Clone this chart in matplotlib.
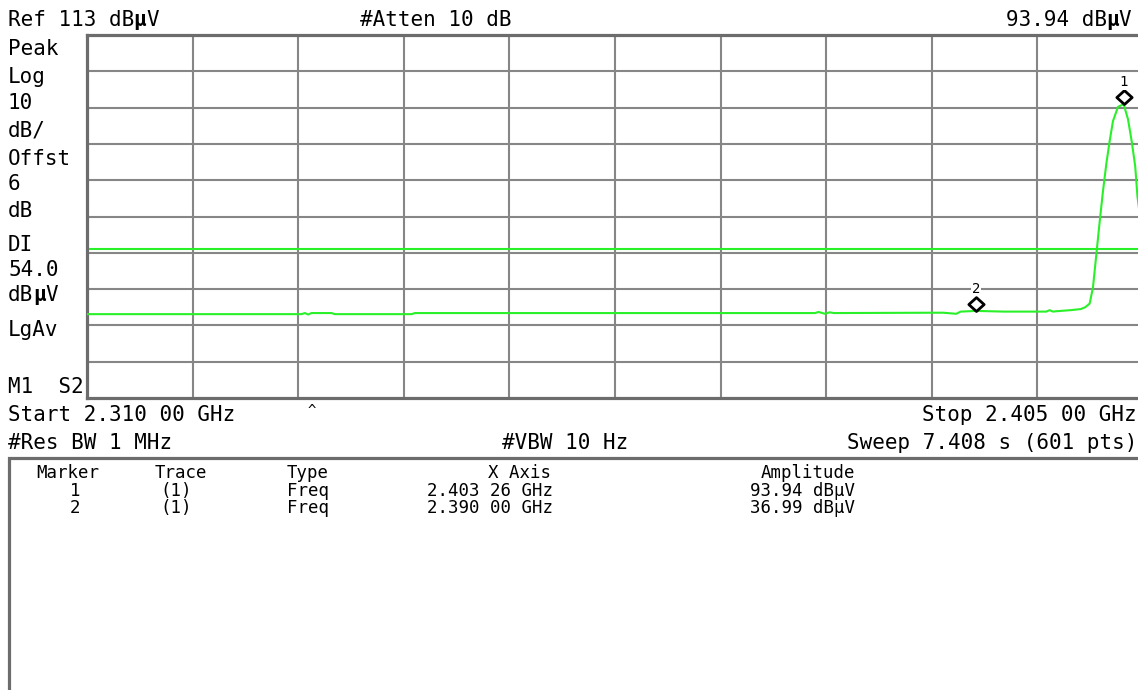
# Spectrum analyzer screen capture (2.310 - 2.405 GHz band edge plot) rebuilt with matplotlib
import matplotlib
matplotlib.use('Agg')
import matplotlib.pyplot as plt
import matplotlib.patches as patches
from matplotlib.path import Path

# 0. Data
# Sweep frequencies (MHz) and trace level (dBuV)
freq_mhz = [2310.0, 2329.3, 2329.6, 2329.9, 2330.2, 2332.0, 2332.3, 2339.2, 2339.5, 2355.0,
            2375.5, 2375.8, 2376.4, 2376.8, 2377.2, 2387.0, 2388.2, 2388.6, 2390.0, 2392.5,
            2396.3, 2396.6, 2396.9, 2397.2, 2398.5, 2399.4, 2399.8, 2400.2, 2400.5, 2400.8,
            2401.1, 2401.4, 2401.7, 2402.0, 2402.3, 2402.75, 2403.26, 2403.65, 2404.0, 2404.3,
            2404.5, 2405.0]
level_dbuv = [36.1, 36.1, 36.4, 36.0, 36.4, 36.4, 36.1, 36.1, 36.4, 36.4,
              36.4, 36.7, 36.2, 36.6, 36.4, 36.5, 36.2, 36.8, 36.99, 36.8,
              36.8, 37.2, 36.8, 36.9, 37.2, 37.5, 38.0, 39.0, 43.5, 52.5,
              61.5, 70.0, 77.5, 83.8, 89.3, 93.2, 93.94, 89.8, 83.4, 76.8,
              68.5, 57.0]

# Markers
marker_ids = ['1', '2']
marker_freq = [2403.26, 2390.00]
marker_amp = [93.94, 36.99]

# Display line and screen settings
display_line = 54.0
ref_level = 113
db_per_div = 10
start_mhz = 2310.0
stop_mhz = 2405.0

# Left annotation column
left_labels = ['Peak', 'Log', '10', 'dB/', 'Offst', '6', 'dB', 'DI', '54.0', 'dBµV', 'LgAv', 'M1  S2']

# Marker table
table_header = ['Marker', 'Trace', 'Type', 'X Axis', 'Amplitude']
table_rows = [['1', '(1)', 'Freq', '2.403 26 GHz', '93.94 dBµV'],
              ['2', '(1)', 'Freq', '2.390 00 GHz', '36.99 dBµV']]

# 1. Figure, everything is placed in screen pixels
W, H, DPI = 1138, 690, 100
fig = plt.figure(figsize=(W / DPI, H / DPI), dpi=DPI)
fig.patch.set_facecolor('white')

MONO = 'DejaVu Sans Mono'
GREEN = '#2af02a'
GRID = '#868686'
FRAME = '#6c6c6c'


def put(x, y, s, size=15, ha='left', bold_mu=True):
    # monospace text, x = left (or right) edge in px, y = baseline in px
    # the mu sign is drawn in bold like on the instrument screen
    w = 0.602 * size * DPI / 72
    if ha == 'right':
        x = x - len(s) * w
    if not bold_mu:
        fig.text(x / W, 1 - y / H, s, family=MONO, size=size, ha='left', va='baseline')
        return
    # split into pieces so the bold mu sits in its own slot
    pieces = []
    buf, start = '', 0
    for i, c in enumerate(s):
        if c == 'µ':
            if buf:
                pieces.append((start, buf, 'normal'))
            pieces.append((i, c, 'bold'))
            buf, start = '', i + 1
        else:
            buf += c
    if buf:
        pieces.append((start, buf, 'normal'))
    for i0, txt, wt in pieces:
        fig.text((x + i0 * w) / W, 1 - y / H, txt, family=MONO, size=size,
                 weight=wt, ha='left', va='baseline')


# Plot area: left 87, top 35, 105.6 px per division (right edge falls off the screen)
left_px, top_px, div_x, div_y = 87, 35, 105.6, 36.3
ax = fig.add_axes([left_px / W, 1 - (top_px + 10 * div_y) / H, 10 * div_x / W, 10 * div_y / H])
ax.set_xlim(start_mhz, stop_mhz)
ax.set_ylim(ref_level - 10 * db_per_div, ref_level)

# Graticule
span = stop_mhz - start_mhz
for i in range(1, 10):
    ax.axvline(start_mhz + i * span / 10, color=GRID, lw=1.5, zorder=1)
    ax.axhline(ref_level - i * db_per_div, color=GRID, lw=1.5, zorder=1)
ax.set_xticks([])
ax.set_yticks([])
for s in ax.spines.values():
    s.set_color(FRAME)
    s.set_linewidth(2.3)

# Display line and trace
ax.axhline(display_line, color=GREEN, lw=1.5, zorder=2)
ax.plot(freq_mhz, level_dbuv, color=GREEN, lw=1.5, zorder=3)

# Diamond markers sitting on top of the trace point
diamond = Path([(0, 0), (1.1, 1), (0, 2), (-1.1, 1), (0, 0)],
               [Path.MOVETO, Path.LINETO, Path.LINETO, Path.LINETO, Path.CLOSEPOLY])
for mid, mf, ma in zip(marker_ids, marker_freq, marker_amp):
    ax.plot(mf, ma, linestyle='None', marker=diamond, markersize=20, markerfacecolor='white',
            markeredgecolor='black', markeredgewidth=2.0, zorder=5)
    ax.annotate(mid, (mf, ma), xytext=(0, 11), textcoords='offset points', ha='center',
                va='bottom', family=MONO, size=10, zorder=6,
                bbox=dict(boxstyle='square,pad=0.05', fc='white', ec='none'))

# 2. Screen annotations
put(8, 26, 'Ref 113 dBµV')
put(360, 26, '#Atten 10 dB')
put(1131, 26, '93.94 dBµV', ha='right')

label_y = [55, 83, 109, 136, 165, 190, 217, 251, 276, 301, 336, 393]
for lab, ly in zip(left_labels, label_y):
    put(8, ly, lab)

put(8, 421, 'Start 2.310 00 GHz')
put(1135, 421, 'Stop 2.405 00 GHz', ha='right')
fig.text(312 / W, 1 - 411 / H, '^', family=MONO, size=10, ha='center', va='center')
put(8, 449, '#Res BW 1 MHz')
put(502, 449, '#VBW 10 Hz')
put(1135, 449, 'Sweep 7.408 s (601 pts)', ha='right')

# Marker table box (bottom and right run off the screen)
box = patches.Rectangle((8.5 / W, -0.05), 2, (1 - 458 / H) + 0.05, transform=fig.transFigure,
                        fill=False, edgecolor=FRAME, linewidth=2.3)
fig.add_artist(box)

tsize = 12.5
put(36, 478, table_header[0], size=tsize, bold_mu=False)
put(155, 478, table_header[1], size=tsize, bold_mu=False)
put(287, 478, table_header[2], size=tsize, bold_mu=False)
put(488, 478, table_header[3], size=tsize, bold_mu=False)
put(855, 478, table_header[4], size=tsize, ha='right', bold_mu=False)
for r, row in enumerate(table_rows):
    ry = 496 + r * 17
    put(70, ry, row[0], size=tsize, bold_mu=False)
    put(160, ry, row[1], size=tsize, bold_mu=False)
    put(287, ry, row[2], size=tsize, bold_mu=False)
    put(427, ry, row[3], size=tsize, bold_mu=False)
    put(855, ry, row[4], size=tsize, ha='right', bold_mu=False)

fig.savefig('out.png', dpi=DPI, facecolor='white')
